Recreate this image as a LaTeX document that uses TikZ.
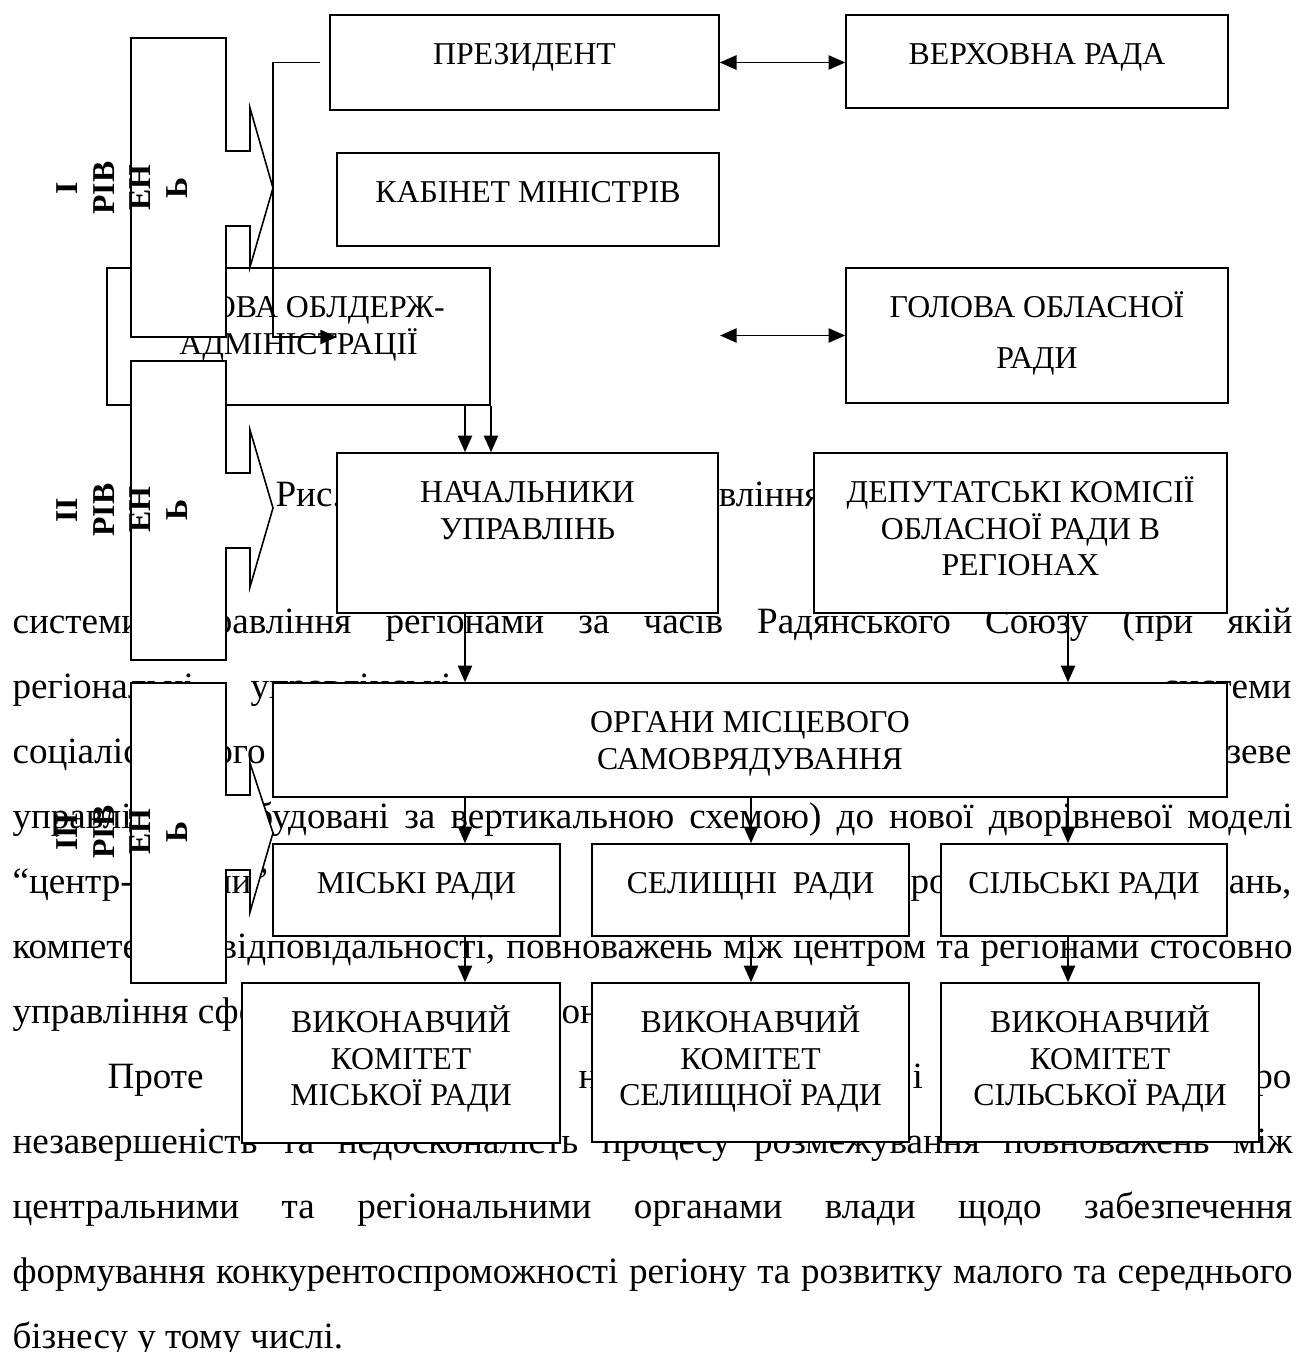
\documentclass[tikz,border=0pt]{standalone}
\usepackage{fontspec}
\setmainfont{Liberation Serif}
\usepackage{tikz}
\usetikzlibrary{arrows.meta,calc}

\newlength{\pxu}
\setlength{\pxu}{0.3774pt}
\newcommand{\boxfont}{\fontsize{12}{13.8}\selectfont}
\newcommand{\bodyfont}{\fontsize{14}{16}\selectfont}
\newcommand{\lvlfont}{\bfseries\fontsize{12}{13.85}\selectfont}
\newcommand{\bx}[3]{\parbox[c][#2\pxu][t]{#1\pxu}{\centering\vspace*{7.7pt}\rule{0pt}{11pt}#3}}
\newcommand{\jline}[1]{\makebox[1280\pxu][s]{#1}}

\tikzset{
   orgbox/.style={draw, fill=white, line width=0.6pt, inner sep=0pt, font=\boxfont},
   arr/.style={line width=0.6pt, -{Triangle[length=6.3pt,width=5.4pt]}},
   darr/.style={line width=0.6pt, {Triangle[length=6.3pt,width=5.4pt]}-{Triangle[length=6.3pt,width=5.4pt]}},
   lvlshape/.style={draw, fill=white, line width=0.6pt},
   lvltext/.style={rotate=90, align=center, inner sep=0pt, font=\lvlfont},
   txt/.style={anchor=base west, inner sep=0pt, font=\bodyfont},
   txtr/.style={anchor=base east, inner sep=0pt, font=\bodyfont}
}

\begin{document}
\begin{tikzpicture}[x=0.3774pt,y=-0.3774pt]
   \useasboundingbox (0,0) rectangle (1299,1352);
   % page text behind the scheme
   \node[txt] (t1a) at (275,506) {Рис.};
   \node[txtr] (t1b) at (822,506) {вління};
   \node[txt] (t2) at (12,633) {\jline{системи управління регіонами за часів Радянського Союзу (при якій}};
   \node[txt] (t3a) at (12,698) {регіональні};
   \node[txt] (t3b) at (250,698) {управлінські};
   \node[txtr] (t3c) at (1292,698) {системи};
   \node[txt] (t4a) at (12,763) {соціалістичного};
   \node[txtr] (t4b) at (1292,763) {галузеве};
   \node[txt] (t5) at (12,828) {\jline{управління (побудовані за вертикальною схемою) до нової дворівневої моделі}};
   \node[txt] (t6a) at (12,893) {“центр-регіони”};
   \node[txt] (t6b) at (910,893) {ро};
   \node[txtr] (t6c) at (1292,893) {дань,};
   \node[txt] (t7) at (12,958) {\jline{компетенції, відповідальності, повноважень між центром та регіонами стосовно}};
   \node[txt] (t8a) at (12,1023) {управління сферою};
   \node[txt] (t8b) at (561,1023) {он};
   \node[txt] (t9a) at (107,1088) {Проте};
   \node[txt] (t9b) at (578,1088) {н};
   \node[txt] (t9c) at (912,1088) {і};
   \node[txtr] (t9d) at (1292,1088) {про};
   \node[txt] (t10) at (12,1153) {\jline{незавершеність та недосконалість процесу розмежування повноважень між}};
   \node[txt] (t11) at (12,1218) {\jline{центральними та регіональними органами влади щодо забезпечення}};
   \node[txt] (t12) at (12,1283) {\jline{формування конкурентоспроможності регіону та розвитку малого та середнього}};
   \node[txt] (t13) at (12,1348) {бізнесу у тому числі.};

   % boxes
   \node[orgbox] (pres) at (524.5,62.5) {\bx{389}{95}{ПРЕЗИДЕНТ}};
   \node[orgbox] (verkh) at (1037,61.5) {\bx{382}{93}{ВЕРХОВНА РАДА}};
   \node[orgbox] (kabmin) at (528,199.5) {\bx{382}{93}{КАБІНЕТ МІНІСТРІВ}};
   \node[orgbox] (goldadm) at (298.5,336.5) {\bx{383}{137}{ГОЛОВА ОБЛДЕРЖ-\\АДМІНІСТРАЦІЇ}};
   \node[orgbox] (golobl) at (1037,335.5) {\bx{382}{135}{ГОЛОВА ОБЛАСНОЇ\\[5.4pt]РАДИ}};
   \node[orgbox] (nach) at (527.5,533) {\bx{381}{160}{НАЧАЛЬНИКИ\\УПРАВЛІНЬ}};
   \node[orgbox] (deput) at (1020.5,533) {\bx{413}{160}{ДЕПУТАТСЬКІ КОМІСІЇ\\ОБЛАСНОЇ РАДИ В\\РЕГІОНАХ}};
   \node[orgbox] (organy) at (750,740) {\bx{954}{114}{ОРГАНИ МІСЦЕВОГО\\САМОВРЯДУВАННЯ}};
   \node[orgbox] (misk) at (416.5,890) {\bx{287}{92}{МІСЬКІ РАДИ}};
   \node[orgbox] (selyshch) at (750.5,890) {\bx{317}{92}{СЕЛИЩНІ\ \ РАДИ}};
   \node[orgbox] (silsk) at (1084,890) {\bx{286}{92}{СІЛЬСЬКІ РАДИ}};
   \node[orgbox] (vykmisk) at (401,1063) {\bx{318}{160}{ВИКОНАВЧИЙ\\КОМІТЕТ\\МІСЬКОЇ РАДИ}};
   \node[orgbox] (vyksel) at (750.5,1062.5) {\bx{317}{159}{ВИКОНАВЧИЙ\\КОМІТЕТ\\СЕЛИЩНОЇ РАДИ}};
   \node[orgbox] (vyksil) at (1100,1062.5) {\bx{318}{159}{ВИКОНАВЧИЙ\\КОМІТЕТ\\СІЛЬСЬКОЇ РАДИ}};

   % connectors
   \coordinate (colA) at (465,0);
   \coordinate (colB) at (751,0);
   \coordinate (colC) at (1068,0);
   \coordinate (colD) at (491,0);
   \coordinate (presbend) at (273,337);
   \coordinate (presend) at (337,337);
   \coordinate (oblfree) at (720,335.5);
   \draw[darr] (pres.east) -- (pres.east -| verkh.west);
   \draw[darr] (oblfree) -- (golobl.west);
   \draw[arr] ($(pres.west)+(-9,0)$) -| (presbend) -- (presend);
   \draw[arr] (goldadm.south -| colA) -- (nach.north -| colA);
   \draw[arr] (goldadm.south -| colD) -- (nach.north -| colD);
   \draw[arr] (nach.south -| colA) -- (organy.north -| colA);
   \draw[arr] (deput.south -| colC) -- (organy.north -| colC);
   \draw[arr] (organy.south -| colA) -- (misk.north -| colA);
   \draw[arr] (organy.south -| colB) -- (selyshch.north -| colB);
   \draw[arr] (organy.south -| colC) -- (silsk.north -| colC);
   \draw[arr] (misk.south -| colA) -- (vykmisk.north -| colA);
   \draw[arr] (selyshch.south -| colB) -- (vyksel.north -| colB);
   \draw[arr] (silsk.south -| colC) -- (vyksil.north -| colC);

   % level arrows
   \draw[lvlshape] (131,38) -- (226,38) -- (226,151) -- (250,151) -- (250,108) -- (273,188) -- (250,267) -- (250,226) -- (226,226) -- (226,337) -- (131,337) -- cycle;
   \draw[lvlshape] (131,361) -- (226,361) -- (226,473) -- (250,473) -- (250,430) -- (273,508) -- (250,587) -- (250,548) -- (226,548) -- (226,660) -- (131,660) -- cycle;
   \draw[lvlshape] (131,683) -- (226,683) -- (226,795) -- (250,795) -- (250,763) -- (273,833) -- (250,912) -- (250,870) -- (226,870) -- (226,983) -- (131,983) -- cycle;
   \node[lvltext] (lvl1) at (122,188) {I\\РІВ\\ЕН\\Ь};
   \node[lvltext] (lvl2) at (122,510) {II\\РІВ\\ЕН\\Ь};
   \node[lvltext] (lvl3) at (122,832) {III\\РІВ\\ЕН\\Ь};
\end{tikzpicture}
\end{document}
